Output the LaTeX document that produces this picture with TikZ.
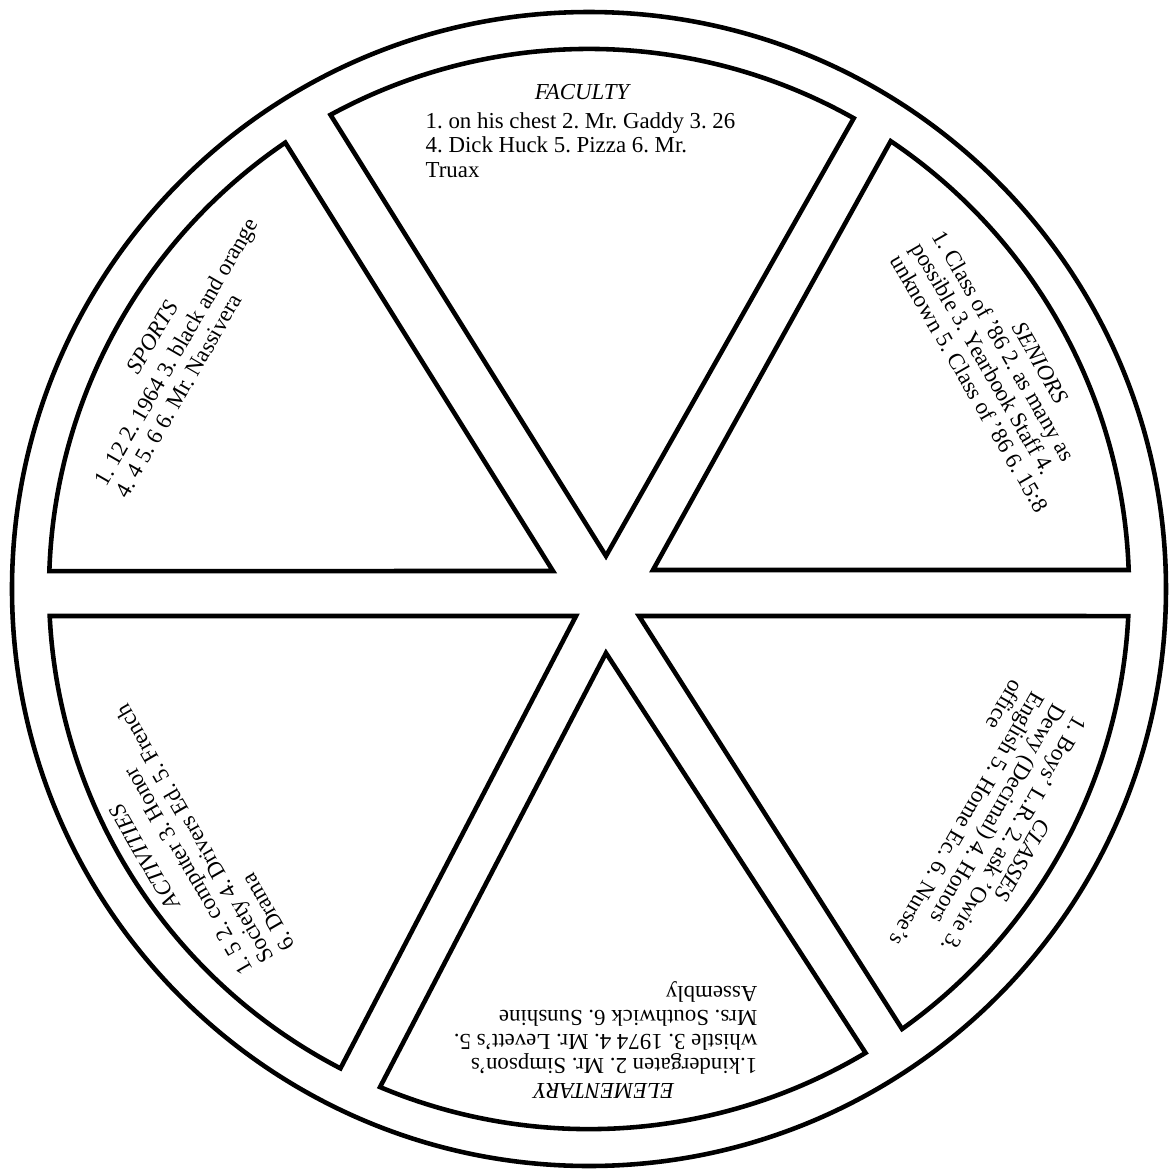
\documentclass[tikz,border=0pt]{standalone}
\usepackage{fontspec}
\setmainfont{Liberation Serif}
\usepackage{tikz}
\usetikzlibrary{calc, intersections}
\frenchspacing
\tikzset{
    rim/.style={line width=1.3pt},
    wedge/.style={line width=1.3pt, line join=miter},
    wedge title/.style={font=\fontsize{6.5}{6.9}\selectfont\itshape, inner sep=0pt},
    wedge text/.style={font=\fontsize{6.5}{6.9}\selectfont, align=left, inner sep=0pt, anchor=west},
}
\newcommand{\rin}{5.4}
% one piece of the wheel: name, apex, first edge, second edge
\newcommand{\drawwedge}[4]{
    \coordinate (#1-apex) at (#2);
    \path[name path=#1-ra] (#1-apex) -- ++(#3:7);
    \path[name path=#1-rb] (#1-apex) -- ++(#4:7);
    \path[name intersections={of=inner and #1-ra, by=#1-a}];
    \path[name intersections={of=inner and #1-rb, by=#1-b}];
    \draw[wedge] let \p1=(#1-a), \p2=(#1-b) in
        (#1-apex) -- (#1-a) arc[start angle={atan2(\y1,\x1)}, end angle={atan2(\y2,\x2)}, radius=\rin] -- cycle;
}

\begin{document}
\begin{tikzpicture}
    \useasboundingbox (-5.89,-5.82) rectangle (5.79,5.89);
    \draw[rim] (0,0) circle[radius=5.77];
    \path[name path=inner] (0,0) circle[radius=\rin];

    \drawwedge{faculty}{0.17,0.33}{60.5}{122}
    \drawwedge{seniors}{0.64,0.19}{0}{61}
    \drawwedge{sports}{-0.36,0.18}{122}{180}
    \drawwedge{activities}{-0.13,-0.27}{180}{242.5}
    \drawwedge{elementary}{0.17,-0.64}{242.5}{303}
    \drawwedge{classes}{0.50,-0.27}{302.5}{360}

    \begin{scope}[rotate=0, transform shape]
        \node[wedge title] (faculty) at (-0.07,4.97) {FACULTY};
        \node[wedge text] (faculty-text) at (-1.64,4.44) {1. on his chest 2. Mr. Gaddy 3. 26\\4. Dick Huck 5. Pizza 6. Mr.\\Truax};
    \end{scope}
    \begin{scope}[rotate=-60, transform shape]
        \node[wedge title] (seniors) at (0.30,5.04) {SENIORS};
        \node[wedge text] (seniors-text) at (-1.35,4.57) {1. Class of '86 2. as many as\\possible 3. Yearbook Staff 4.\\unknown 5. Class of '86 6. 15:8};
    \end{scope}
    \begin{scope}[rotate=60, transform shape]
        \node[wedge title] (sports) at (0.00,5.04) {SPORTS};
        \node[wedge text] (sports-text) at (-1.54,4.645) {1. 12 2. 1964 3. black and orange\\4. 4 5. 6 6. Mr. Nassivera};
    \end{scope}
    \begin{scope}[rotate=120, transform shape]
        \node[wedge title] (activities) at (-0.10,5.19) {ACTIVITIES};
        \node[wedge text] (activities-text) at (-1.63,4.64) {1. 5 2. computer 3. Honor\\Society 4. Drivers Ed. 5. French\\6. Drama};
    \end{scope}
    \begin{scope}[rotate=180, transform shape]
        \node[wedge title] (elementary) at (-0.15,5.02) {ELEMENTARY};
        \node[wedge text] (elementary-text) at (-1.69,4.39) {1.kindergaten 2. Mr. Simpson's\\whistle 3. 1974 4. Mr. Levett's 5.\\Mrs. Southwick 6. Sunshine\\Assembly};
    \end{scope}
    \begin{scope}[rotate=240, transform shape]
        \node[wedge title] (classes) at (0.18,5.11) {CLASSES};
        \node[wedge text] (classes-text) at (-1.35,4.55) {1. Boys' L.R. 2. ask 'Owie 3.\\Dewy (Decimal) 4. Honors\\English 5. Home Ec. 6. Nurse's\\office};
    \end{scope}
\end{tikzpicture}
\end{document}
